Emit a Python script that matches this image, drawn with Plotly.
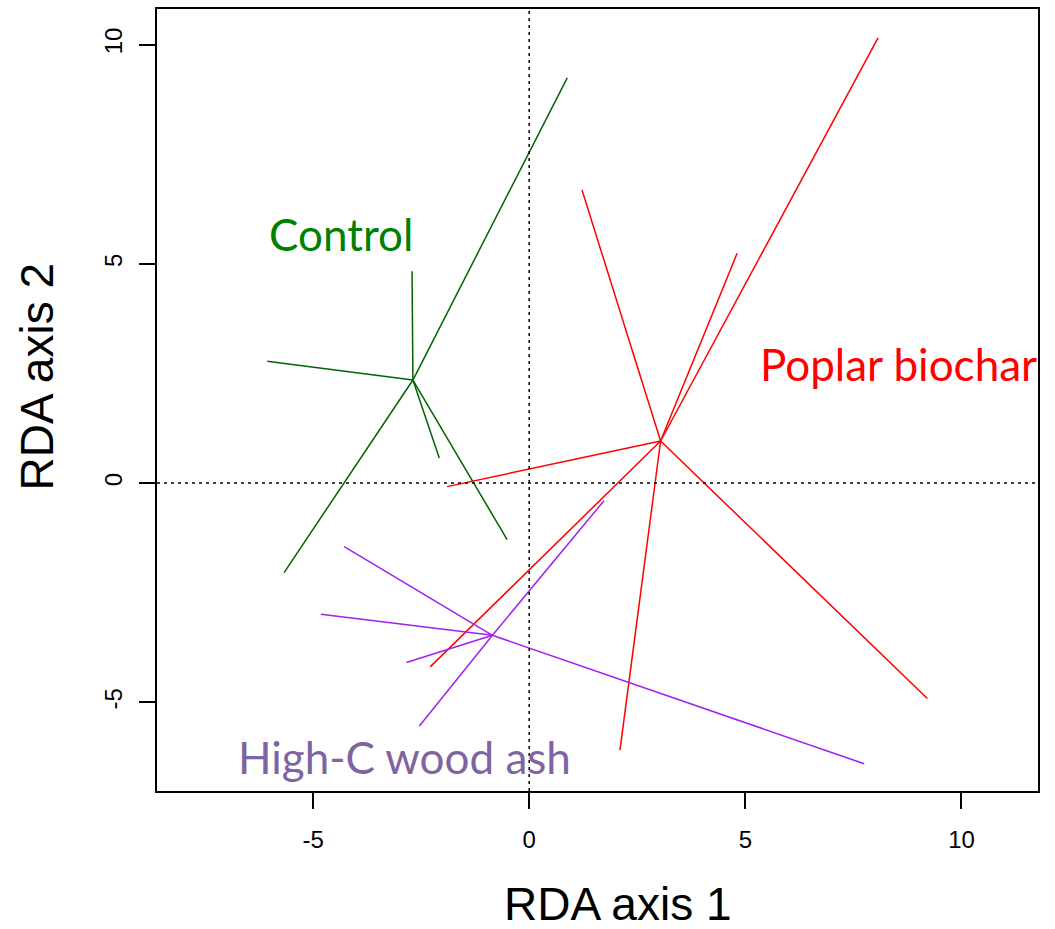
import plotly.graph_objects as go

# ---- data ----
control_centroid = (-2.69, 2.35)
control_x = [0.88, -2.71, -6.06, -2.08, -0.51, -5.67]
control_y = [9.24, 4.83, 2.78, 0.57, -1.29, -2.04]

poplar_centroid = (3.04, 0.96)
poplar_x = [8.07, 4.81, 1.22, -1.90, -2.29, 2.10, 9.21]
poplar_y = [10.15, 5.24, 6.69, -0.08, -4.19, -6.09, -4.91]

ash_centroid = (-0.85, -3.47)
ash_x = [-4.28, -4.82, -2.84, -2.54, 1.73, 7.75]
ash_y = [-1.45, -2.99, -4.09, -5.54, -0.40, -6.40]

group_names = ["Control", "Poplar biochar", "High-C wood ash"]
label_x = [-4.35, 8.55, -2.89]
label_y = [5.67, 2.71, -6.25]

x_ticks = [-5, 0, 5, 10]
y_ticks = [-5, 0, 5, 10]

line_colors = ["#006400", "#FF0000", "#A020F0"]
label_colors = ["#008000", "#FF0000", "#8064A2"]


def spider(centroid, xs, ys):
    sx, sy = [], []
    for px, py in zip(xs, ys):
        sx += [centroid[0], px, None]
        sy += [centroid[1], py, None]
    return sx, sy


fig = go.Figure()

# reference dotted lines
fig.add_hline(y=0, line=dict(color="black", width=1.5, dash="3px,4px"))
fig.add_vline(x=0, line=dict(color="black", width=1.5, dash="3px,4px"))

groups = [
    (control_centroid, control_x, control_y),
    (poplar_centroid, poplar_x, poplar_y),
    (ash_centroid, ash_x, ash_y),
]
for (c, xs, ys), col, name in zip(groups, line_colors, group_names):
    sx, sy = spider(c, xs, ys)
    fig.add_trace(go.Scatter(x=sx, y=sy, mode="lines", name=name,
                             line=dict(color=col, width=1.5),
                             hoverinfo="skip", showlegend=False))

for name, lx, ly, col in zip(group_names, label_x, label_y, label_colors):
    fig.add_annotation(x=lx, y=ly, text=name, showarrow=False,
                       xanchor="center", yanchor="middle",
                       font=dict(family="Lato", size=44, color=col))

# axis titles
fig.add_annotation(xref="paper", yref="paper", x=0.523, y=0, yshift=-113,
                   text="RDA axis 1", showarrow=False,
                   xanchor="center", yanchor="middle",
                   font=dict(family="Liberation Sans", size=46, color="black"))
fig.add_annotation(xref="paper", yref="paper", x=0, y=0.53, xshift=-120,
                   text="RDA axis 2", showarrow=False, textangle=-90,
                   xanchor="center", yanchor="middle",
                   font=dict(family="Liberation Sans", size=46, color="black"))

axis_common = dict(showgrid=False, zeroline=False, showline=True, mirror=True,
                   linecolor="black", linewidth=1.5, ticks="outside",
                   ticklen=16, tickwidth=1.5, tickcolor="black",
                   tickfont=dict(family="Liberation Sans", size=24, color="black"))

fig.update_xaxes(range=[-8.61, 11.77], tickvals=x_ticks,
                 ticktext=[str(v) for v in x_ticks], ticklabelstandoff=10,
                 **axis_common)
fig.update_yaxes(range=[-7.02, 10.81], tickvals=y_ticks,
                 ticktext=[str(v) for v in y_ticks], tickangle=-90,
                 ticklabelstandoff=8, **axis_common)

fig.update_layout(width=1055, height=929,
                  margin=dict(l=157, r=17, t=7, b=138),
                  plot_bgcolor="white", paper_bgcolor="white",
                  showlegend=False)

fig.write_html("out.html")
